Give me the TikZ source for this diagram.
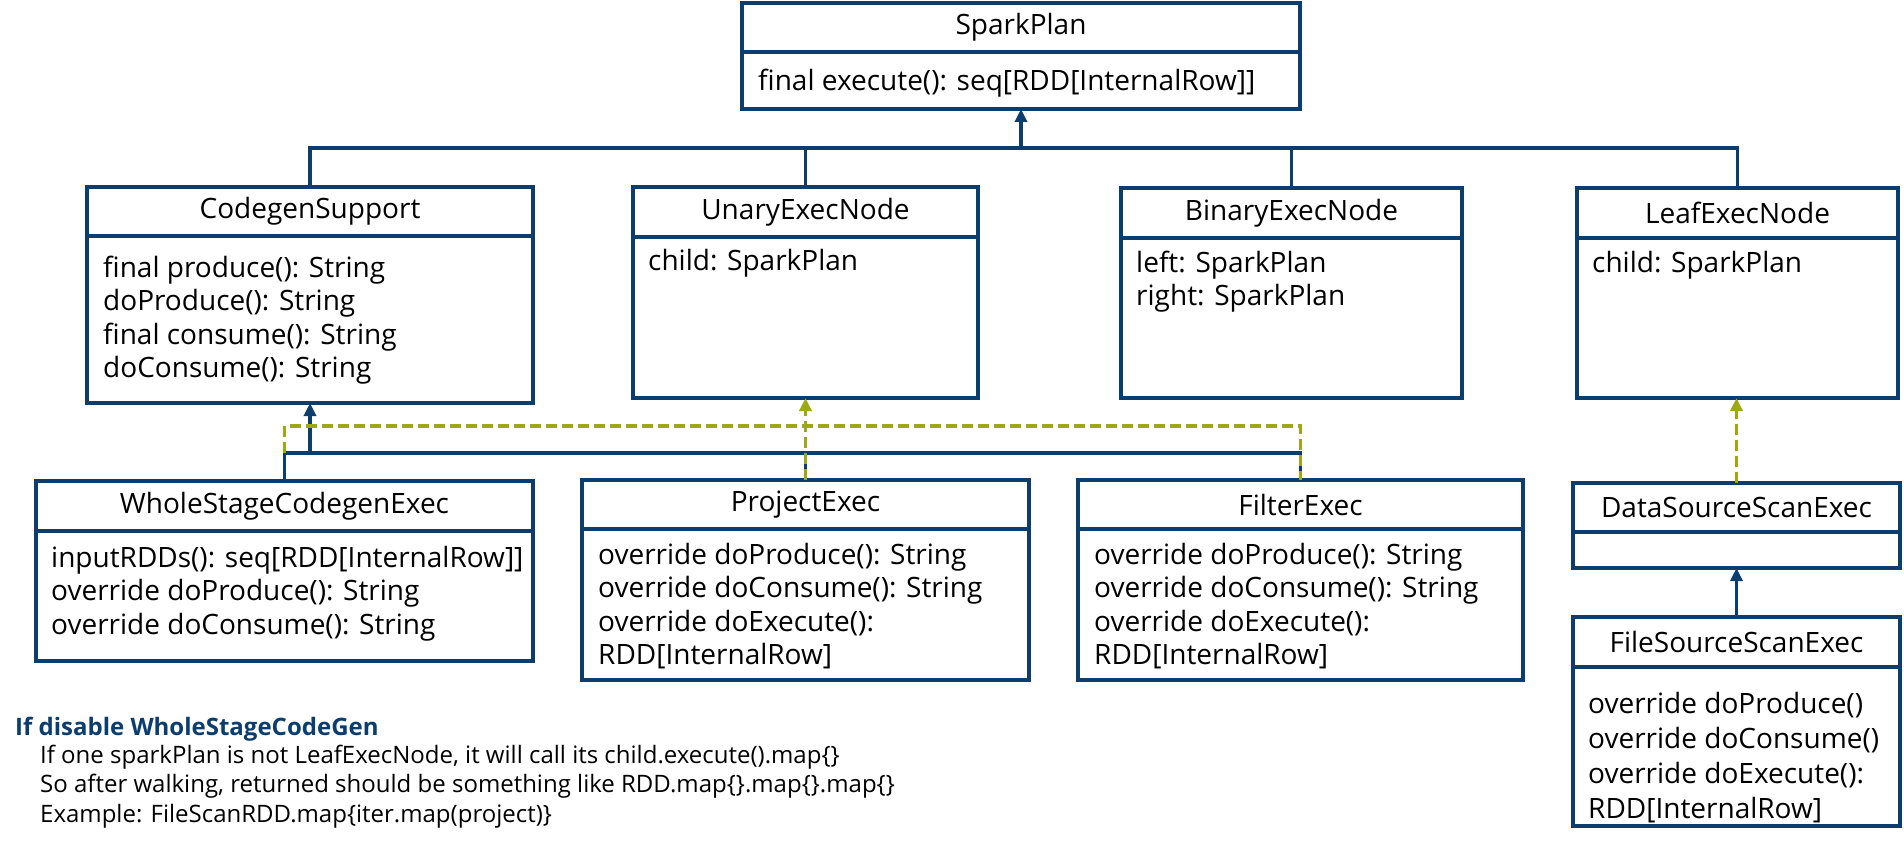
\documentclass[tikz,border=0pt]{standalone}
\usepackage{fontspec}
\setmainfont{Open Sans}
\usetikzlibrary{arrows.meta}
\definecolor{navy}{HTML}{0B3D6F}
\definecolor{sgreen}{HTML}{9CA913}
\tikzset{
  umlbox/.style={draw=navy, line width=3.5pt, rectangle, inner sep=0pt, outer sep=0pt, fill=white},
  umldiv/.style={draw=navy, line width=3.5pt},
  umltitle/.style={inner sep=0pt, font=\fontsize{28}{33.5}\selectfont},
  umlbody/.style={inner sep=0pt, anchor=north west, align=left, font=\fontsize{28}{33.5}\selectfont},
  navyline/.style={draw=navy, line width=3.5pt},
  inh/.style={navyline, -{Triangle[width=12pt,length=13pt]}},
  realize/.style={draw=sgreen, line width=3.5pt, dash pattern=on 11pt off 5pt},
  realizearrow/.style={realize, -{Triangle[width=12pt,length=13pt]}},
}
% name, x1, y1, x2, y2, ydiv, title
\newcommand\umlclass[7]{%
  \node[umlbox, minimum width=#4pt-#2pt, minimum height=#5pt-#3pt] (#1) at ({(#2+#4)/2},{(#3+#5)/2}) {};
  \draw[umldiv] (#2,#6) -- (#4,#6);
  \node[umltitle] (#1-title) at ({(#2+#4)/2},{(#3+#6)/2}) {#7};}
% name, xleft, first baseline, lines
\newcommand\umlbody[4]{%
  \node[umlbody] (#1-body) at (#2,{#3-23.45}) {\strut #4};}
\begin{document}
\begin{tikzpicture}[x=1pt,y=-1pt]
\useasboundingbox (0,0) rectangle (1904,848);
\fill[white] (0,0) rectangle (1904,848);

% top level
\umlclass{sp}{742}{3}{1300}{109}{52}{SparkPlan}
\umlbody{sp}{758}{90}{final execute(): seq[RDD[InternalRow]]}

\umlclass{cs}{87}{187}{533}{403}{236}{CodegenSupport}
\umlbody{cs}{103}{277}{final produce(): String\\doProduce(): String\\final consume(): String\\doConsume(): String}

\umlclass{ue}{633}{187}{978}{398}{237}{UnaryExecNode}
\umlbody{ue}{648}{270}{child: SparkPlan}

\umlclass{be}{1121}{188}{1462}{398}{238}{BinaryExecNode}
\umlbody{be}{1136}{272}{left: SparkPlan\\right: SparkPlan}

\umlclass{le}{1577}{188}{1898}{398}{238}{LeafExecNode}
\umlbody{le}{1592}{272}{child: SparkPlan}

% bottom level
\umlclass{ws}{36}{481}{533}{661}{531}{WholeStageCodegenExec}
\umlbody{ws}{51}{567}{inputRDDs(): seq[RDD[InternalRow]]\\override doProduce(): String\\override doConsume(): String}

\umlclass{pe}{582}{480}{1029}{680}{529}{ProjectExec}
\umlbody{pe}{598}{564}{override doProduce(): String\\override doConsume(): String\\override doExecute():\\RDD[InternalRow]}

\umlclass{fe}{1078}{480}{1523}{680}{529}{FilterExec}
\umlbody{fe}{1094}{564}{override doProduce(): String\\override doConsume(): String\\override doExecute():\\RDD[InternalRow]}

\umlclass{ds}{1573}{483}{1900}{568}{532}{DataSourceScanExec}

\umlclass{fs}{1573}{617}{1900}{826}{667}{FileSourceScanExec}
\node[umlbody, font=\fontsize{28}{35}\selectfont] (fs-body) at (1588,{713-24.5}) {\strut override doProduce()\\override doConsume()\\override doExecute():\\RDD[InternalRow]};

% top inheritance tree
\coordinate (tbus) at (1021,148);
\draw[navyline] (cs.north) -- (cs.north |- tbus) -- (le.north |- tbus) -- (le.north);
\draw[navyline] (ue.north) -- (ue.north |- tbus);
\draw[navyline] (be.north) -- (be.north |- tbus);
\draw[inh] (tbus) -- (sp.south);

% bottom inheritance to CodegenSupport
\coordinate (bbus) at (310,453);
\coordinate (gbus) at (805,426);
\draw[navyline] (ws.north) -- (ws.north |- bbus) -- (fe.north |- bbus) -- (fe.north);
\draw[navyline] (pe.north) -- (pe.north |- bbus);
\draw[inh] (bbus) -- (cs.south);

% realization to UnaryExecNode
\draw[realize] (ws.north |- bbus) -- (ws.north |- gbus) -- (fe.north |- gbus) -- (fe.north);
\draw[realizearrow] (pe.north) -- (ue.south);

% leaf chain
\draw[realizearrow] (ds.north) -- (ds.north |- le.south);
\draw[inh] (fs.north) -- (ds.south);

% note
\node[anchor=base west, inner sep=0pt, font=\fontsize{24}{29.5}\selectfont\bfseries, text=navy] (notetitle) at (15,735) {If disable WholeStageCodeGen};
\node[anchor=north west, align=left, inner sep=0pt, font=\fontsize{24}{29.5}\selectfont] (notebody) at (40,{763-0.7*29.5}) {\strut If one sparkPlan is not LeafExecNode, it will call its child.execute().map\{\}\\So after walking, returned should be something like RDD.map\{\}.map\{\}.map\{\}\\Example: FileScanRDD.map\{iter.map(project)\}};
\end{tikzpicture}
\end{document}
